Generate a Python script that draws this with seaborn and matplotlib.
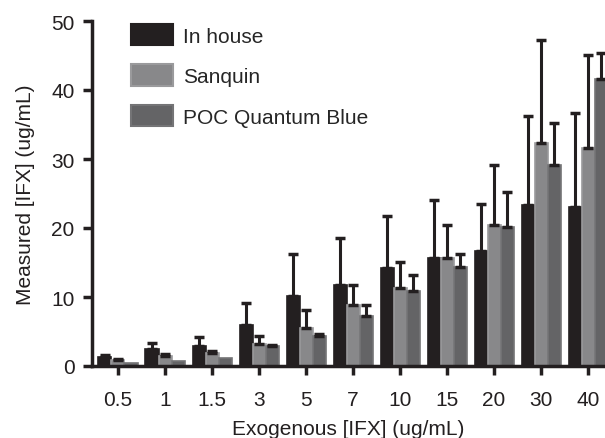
import matplotlib
matplotlib.use("Agg")
import matplotlib.pyplot as plt
import seaborn as sns
import pandas as pd
import numpy as np
from matplotlib.patches import Patch

doses = ["0.5", "1", "1.5", "3", "5", "7", "10", "15", "20", "30", "40"]
series = ["In house", "Sanquin", "POC Quantum Blue"]
inhouse = [1.3, 2.4, 2.9, 6.0, 10.1, 11.8, 14.2, 15.6, 16.7, 23.3, 23.1]
inhouse_err = [0.3, 1.0, 1.3, 3.1, 6.2, 6.8, 7.5, 8.4, 6.8, 13.0, 13.5]
sanquin = [0.9, 1.4, 1.9, 3.2, 5.5, 8.8, 11.3, 15.7, 20.4, 32.3, 31.6]
sanquin_err = [0.1, 0.3, 0.3, 1.2, 2.6, 3.0, 3.8, 4.8, 8.8, 15.0, 13.5]
poc = [0.45, 0.75, 1.1, 2.95, 4.3, 7.2, 10.9, 14.4, 20.2, 29.2, 41.6]
poc_err = [0.0, 0.0, 0.0, 0.1, 0.3, 1.6, 2.3, 1.8, 5.0, 6.0, 3.8]

colors = ["#231f20", "#88888a", "#646466"]
edges = ["#231f20", "#9a9a9c", "#747476"]

rows = []
for s, vals, errs in zip(series, [inhouse, sanquin, poc], [inhouse_err, sanquin_err, poc_err]):
    for d, v, e in zip(doses, vals, errs):
        rows.append({"dose": d, "series": s, "value": v, "err": e})
df = pd.DataFrame(rows)

sns.set_style("ticks")
plt.rcParams["font.family"] = ["Liberation Sans", "DejaVu Sans"]

FS = 15
fig = plt.figure(figsize=(6.05, 4.39), dpi=100)
ax = fig.add_axes([92 / 605, (439 - 367) / 439, 1 - 92 / 605, (367 - 22) / 439])

sns.barplot(data=df, x="dose", y="value", hue="series", order=doses, hue_order=series,
            palette=colors, errorbar=None, width=0.83, ax=ax, legend=False, saturation=1)

for s_i, s in enumerate(series):
    sub = df[df.series == s].set_index("dose").loc[doses]
    conts = ax.containers[s_i]
    for patch, (_, r) in zip(conts, sub.iterrows()):
        patch.set_edgecolor(edges[s_i])
        patch.set_linewidth(1.2)
        cx = patch.get_x() + patch.get_width() / 2
        if r["err"] > 0.05:
            ax.errorbar(cx, r["value"], yerr=[[0], [r["err"]]], fmt="none",
                        ecolor="#231f20", elinewidth=2.2, capsize=3.5, capthick=2.5, zorder=3)

ax.set_ylim(0, 50)
ax.set_xlim(-0.553, 10.36)
ax.set_yticks([0, 10, 20, 30, 40, 50])
ax.tick_params(axis="both", which="major", length=6.5, width=2.5, labelsize=FS, color="#231f20",
               labelcolor="#231f20")
ax.tick_params(axis="x", pad=11)
ax.tick_params(axis="y", pad=6)
for sp in ["left", "bottom"]:
    ax.spines[sp].set_linewidth(2.5)
    ax.spines[sp].set_color("#231f20")
sns.despine(ax=ax)
ax.set_xlabel("Exogenous [IFX] (ug/mL)", fontsize=FS, color="#231f20", labelpad=7)
ax.set_ylabel("Measured [IFX] (ug/mL)", fontsize=FS, color="#231f20", labelpad=12)

handles = [Patch(facecolor=c, edgecolor=e, linewidth=1.5) for c, e in zip(colors, edges)]
fig.legend(handles, series, loc="upper left", bbox_to_anchor=(131 / 605, (439 - 25) / 439),
           frameon=False, fontsize=FS, handlelength=2.0, handleheight=1.2,
           labelspacing=0.9, handletextpad=0.5, borderpad=0, borderaxespad=0)

fig.savefig("out.png", dpi=100)
